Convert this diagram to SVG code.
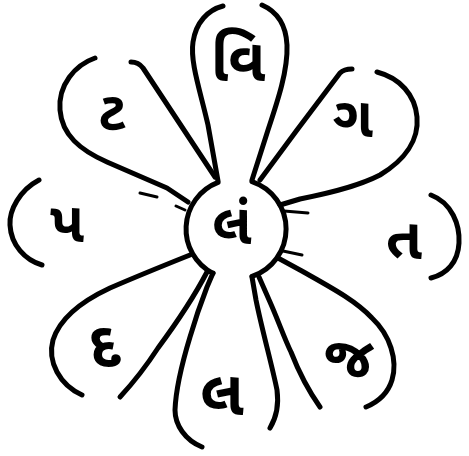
<svg xmlns="http://www.w3.org/2000/svg" width="469" height="456" viewBox="0 0 469 456">
<style>
.s{fill:none;stroke:#000;stroke-width:5;stroke-linecap:round;stroke-linejoin:round}
.t{stroke:#000;stroke-width:3;stroke-linecap:round}
.l{font-family:"Noto Sans Gujarati","Noto Sans","DejaVu Sans",sans-serif;font-weight:bold;fill:#000;text-anchor:middle;dominant-baseline:central}
</style>
<rect width="469" height="456" fill="#fff"/>
<g id="connectors">
<path class="t" d="M140,193 L157,197"/>
<path class="t" d="M176,206 L185,210"/>
<path class="t" d="M284,211 L308,213"/>
<path class="t" d="M283,251 L302,255"/>
</g>
<g id="center">
<path class="s" d="M252,181.6 A50,50 0 0 1 252,276.4"/>
<path class="s" d="M213,273.4 A50,50 0 0 1 218,182.4"/>
<text class="l" x="232" y="230" font-size="56">લં</text>
</g>
<g id="petal-top">
<path class="s" d="M218,181 L208,125 C200,90 190,62 193,42 C196,22 208,10 223,6"/>
<path class="s" d="M252,180 L268,130 C278,100 288,70 287,45 C286,25 278,12 262,5"/>
<text class="l" x="238" y="66" font-size="60">વિ</text>
</g>
<g id="petal-top-right">
<path class="s" d="M260,180 L297,130 L340,73 C343,70 348,69 352,69"/>
<path class="s" d="M377,72 C400,78 415,95 417,117 C419,140 405,160 380,175 C355,188 320,195 300,199 L280,205"/>
<text class="l" x="353" y="123" font-size="56">ગ</text>
</g>
<g id="petal-right">
<path class="s" d="M431,195 C452,203 460,225 459,243 C458,262 447,274 431,278"/>
<text class="l" x="404" y="245" font-size="58">ત</text>
</g>
<g id="petal-bottom-right">
<path class="s" d="M278,258 L300,270 C330,287 355,300 372,318 C390,335 398,360 392,380 C388,393 378,402 366,407"/>
<path class="s" d="M259,277 L270,302 C278,320 285,340 291,352 C298,370 308,390 320,407"/>
<text class="l" x="349" y="363" font-size="56">જ</text>
</g>
<g id="petal-bottom">
<path class="s" d="M213,273 L207,287 C200,305 195,320 190,337 C183,360 176,385 175,410 C175,425 185,440 202,447"/>
<path class="s" d="M252,277 L256,300 C262,330 272,365 277,390 C279,405 276,418 270,428"/>
<text class="l" x="222" y="399" font-size="62">લ</text>
</g>
<g id="petal-bottom-left">
<path class="s" d="M190,255 C170,263 140,275 110,288 C80,302 60,318 53,340 C47,362 60,385 82,395"/>
<path class="s" d="M207,272 C195,295 175,325 158,348 C145,368 133,383 120,397"/>
<text class="l" x="105" y="350" font-size="62">દ</text>
</g>
<g id="petal-left">
<path class="s" d="M39,180 C20,190 9,210 10,225 C11,245 25,260 42,265"/>
<text class="l" x="67" y="228" font-size="56">પ</text>
</g>
<g id="petal-top-left">
<path class="s" d="M131,62 C137,62 140,64 143,68 L215,177"/>
<path class="s" d="M95,58 C75,65 58,85 60,110 C62,135 80,150 107,162 L167,188 L188,202"/>
<text class="l" x="112" y="117" font-size="54">ટ</text>
</g>
</svg>
